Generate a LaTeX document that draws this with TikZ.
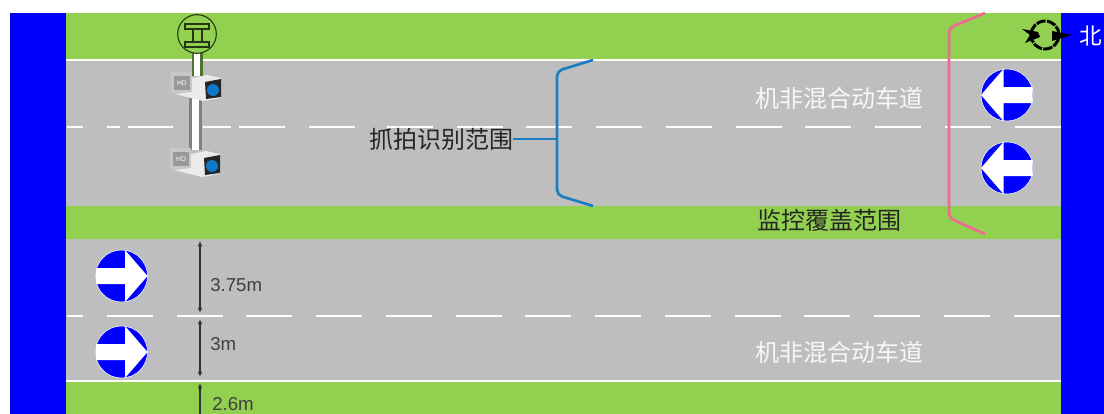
\documentclass[tikz,border=0pt]{standalone}
\usepackage{fontspec}
\setmainfont{Liberation Sans}
\newfontfamily\cjk{Noto Sans CJK SC}
\usetikzlibrary{arrows.meta}
\definecolor{RoadGray}{HTML}{BEBEBE}
\definecolor{GrassGreen}{HTML}{92D050}
\definecolor{EdgeBlue}{HTML}{0000FF}
\definecolor{BraceBlue}{HTML}{1C7CC4}
\definecolor{BracePink}{HTML}{EE6A90}
\definecolor{LensBlue}{HTML}{1078C8}
\tikzset{
  lanetext/.style={font=\cjk\fontsize{18}{18}\selectfont,text=white!88!RoadGray,inner sep=0pt},
  rangetext/.style={font=\cjk\fontsize{18}{18}\selectfont,text=black!85,inner sep=0pt},
  widthtext/.style={font=\fontsize{14}{14}\selectfont,text=black!75,inner sep=0pt,anchor=west},
  laneline/.style={white!95!RoadGray,line width=2pt},
  dashline/.style={white!95!RoadGray,line width=2pt,dash pattern=on 34.5pt off 17.8pt},
  measure/.style={black!80,line width=1pt,{Latex[length=4pt,width=3.5pt]}-{Latex[length=4pt,width=3.5pt]}},
  bracket/.style={line width=2pt,rounded corners=4pt}
}
% one lane sign; #1 = 1 points right, #1 = -1 points left
\newcommand{\lanesign}[4]{%
  \node[circle,fill=EdgeBlue,draw=white,line width=0.4pt,minimum size=39pt,inner sep=0pt] (#4) at (#2,#3) {};
  \fill[white,xscale=#1] (#2*#1-25.5,#3-8) -- (#2*#1+3.5,#3-8) -- (#2*#1+3.5,#3-26) -- (#2*#1+26,#3)
    -- (#2*#1+3.5,#3+26) -- (#2*#1+3.5,#3+8) -- (#2*#1-25.5,#3+8) -- cycle;
}
% one camera on the pole, placed by the corner of its back plate
\newcommand{\camera}[3]{%
  \begin{scope}[shift={(#1,#2)}]
    \fill[black!22] (0,0) rectangle (21,21);
    \fill[black!40] (3,4) rectangle (19,18);
    \node[font=\fontsize{5}{5}\selectfont,text=white,inner sep=0pt] (#3) at (11,11) {HD};
    \fill[white!92!black] (21,6) -- (36,3) -- (50,6) -- (50,26) -- (32,29) -- (4,22) -- (21,20) -- cycle;
    \fill[black!85] (34,10) -- (50,7) -- (50,25) -- (35,27) -- cycle;
    \fill[LensBlue] (42,18) circle (6);
  \end{scope}}

\begin{document}
\begin{tikzpicture}[x=0.75pt,y=-0.75pt]
  \useasboundingbox (0,0) rectangle (1104,414);

  % ground and roads
  \fill[EdgeBlue] (10,13) rectangle (66,414);
  \fill[EdgeBlue] (1061,13) rectangle (1104,414);
  \fill[GrassGreen] (66,13) rectangle (1061,414);
  \fill[RoadGray] (66,60) rectangle (1061,206);
  \fill[RoadGray] (66,239) rectangle (1061,381);

  \draw[laneline] (66,60) -- (1061,60);
  \draw[laneline] (66,381) -- (1061,381);
  \draw[dashline] (387,127) -- (1061,127);
  \draw[dashline] (107,316) -- (1061,316);
  \foreach \xa/\xb in {67/83,107/120,128/173,203/231,239/285,309/355}{%
    \draw[laneline] (\xa,127) -- (\xb,127);
  }
  \draw[laneline] (67,316) -- (83,316);

  % lane signs
  \lanesign{-1}{1007}{95}{signa}
  \lanesign{-1}{1007}{168}{signb}
  \lanesign{1}{121.5}{276}{signc}
  \lanesign{1}{121.5}{352}{signd}

  % widths
  \coordinate (wa) at (200,241);
  \coordinate (wb) at (200,313);
  \coordinate (wc) at (200,319);
  \coordinate (wd) at (200,377);
  \coordinate (we) at (200,383);
  \coordinate (wf) at (200,420);
  \draw[measure] (wa) -- (wb);
  \draw[measure] (wc) -- (wd);
  \draw[black!80,line width=1pt,{Latex[length=4pt,width=3.5pt]}-] (we) -- (wf);
  \node[widthtext] (wtexta) at (210,285) {3.75m};
  \node[widthtext] (wtextb) at (210,344) {3m};
  \node[widthtext] (wtextc) at (212,404) {2.6m};

  % pole and cameras
  \fill[black!45!GrassGreen] (192,53) rectangle (203,76);
  \fill[white] (194,53) rectangle (200,76);
  \fill[black!50] (189,98) rectangle (202,150);
  \fill[white] (192,98) rectangle (199,150);
  \node[circle,draw=black!75!GrassGreen,line width=0.8pt,fill=GrassGreen,minimum size=29pt,inner sep=0pt] (gantry) at (197,34) {};
  \draw[black!75!GrassGreen,line width=0.8pt] (185,24) rectangle (209,29) (185,42) rectangle (209,47) (193,29) rectangle (202,42);
  \camera{171}{72}{camup}
  \camera{170}{148}{camdown}

  % capture range
  \node[rangetext] (capture) at (441,139) {抓拍识别范围};
  \coordinate (bcapa) at (593,60);
  \coordinate (bcapm) at (557,139);
  \coordinate (bcapb) at (593,206);
  \draw[BraceBlue,bracket] (bcapa) -- (557,71) -- (557,195) -- (bcapb);
  \draw[BraceBlue,line width=2pt] (capture.east) -- (bcapm);

  % monitor range
  \node[rangetext] (monitor) at (829,220) {监控覆盖范围};
  \coordinate (bmona) at (985,13);
  \coordinate (bmonb) at (985,234);
  \draw[BracePink,bracket] (bmona) -- (949,28) -- (949,218) -- (bmonb);

  % lane names
  \node[lanetext] (lanea) at (839,98) {机非混合动车道};
  \node[lanetext] (laneb) at (839,352) {机非混合动车道};

  % north mark
  \node[circle,draw=black,line width=2.2pt,dash pattern=on 7pt off 1pt,minimum size=21pt,inner sep=0pt] (compass) at (1045,35) {};
  \fill[black] (1022,29) -- (1038,32) -- (1040,37) -- (1025,43) -- (1030,35) -- cycle;
  \fill[black] (1052,31) -- (1072,35) -- (1052,41) -- cycle;
  \node[font=\cjk\fontsize{17}{17}\selectfont,text=white,inner sep=0pt] (north) at (1091,36) {北};
\end{tikzpicture}
\end{document}
